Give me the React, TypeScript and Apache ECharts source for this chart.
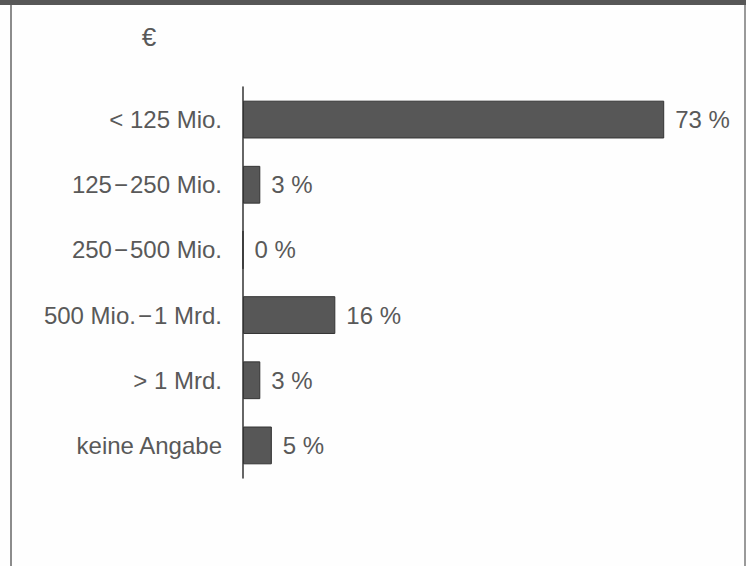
import React, { useEffect, useRef } from "react";
import * as echarts from "echarts";

// Company size by annual turnover, share of respondents in percent
const categories = [
  "< 125 Mio.",
  "125\u200a\u2212\u200a250 Mio.",
  "250\u200a\u2212\u200a500 Mio.",
  "500 Mio.\u200a\u2212\u200a1 Mrd.",
  "> 1 Mrd.",
  "keine Angabe",
];
const shares = [73, 3, 0, 16, 3, 5];
const unitLabel = "€";

const FONT = "Liberation Sans, Arial, Helvetica, sans-serif";

export default function App() {
  const ref = useRef<HTMLDivElement>(null);

  useEffect(() => {
    if (!ref.current) return;
    const chart = echarts.init(ref.current, null, { renderer: "svg" });
    chart.setOption({
      animation: false,
      backgroundColor: "#fefefe",
      grid: { left: 243, top: 87, right: 41.4, bottom: 88, containLabel: false },
      xAxis: {
        type: "value",
        min: 0,
        max: 80,
        show: false,
      },
      yAxis: {
        type: "category",
        data: categories,
        inverse: true,
        axisLine: { show: true, lineStyle: { color: "#333", width: 1.5 } },
        axisTick: { show: false },
        splitLine: { show: false },
        axisLabel: {
          color: "#595959",
          fontFamily: FONT,
          fontSize: 24,
          margin: 21,
        },
      },
      series: [
        {
          type: "bar",
          data: shares,
          barCategoryGap: "42%",
          itemStyle: { color: "#575757", borderColor: "#333", borderWidth: 1 },
          label: {
            show: true,
            position: "right",
            distance: 11,
            color: "#595959",
            fontFamily: FONT,
            fontSize: 24,
            formatter: (p: any) => `${p.value} %`,
          },
        },
      ],
      graphic: [
        { type: "rect", shape: { x: 0, y: 0, width: 746, height: 5 }, style: { fill: "#575757" } },
        { type: "rect", shape: { x: 10, y: 5, width: 2, height: 561 }, style: { fill: "#8c8c8c" } },
        { type: "rect", shape: { x: 744, y: 5, width: 2, height: 561 }, style: { fill: "#9a9a9a" } },
        {
          type: "text",
          x: 149,
          y: 37,
          style: {
            text: unitLabel,
            fill: "#595959",
            font: `26px ${FONT}`,
            textAlign: "center",
            textVerticalAlign: "middle",
          },
        },
      ],
    });
    return () => chart.dispose();
  }, []);

  return (
    <div
      ref={ref}
      style={{ position: "absolute", left: 0, top: 0, width: 746, height: 566 }}
    />
  );
}
